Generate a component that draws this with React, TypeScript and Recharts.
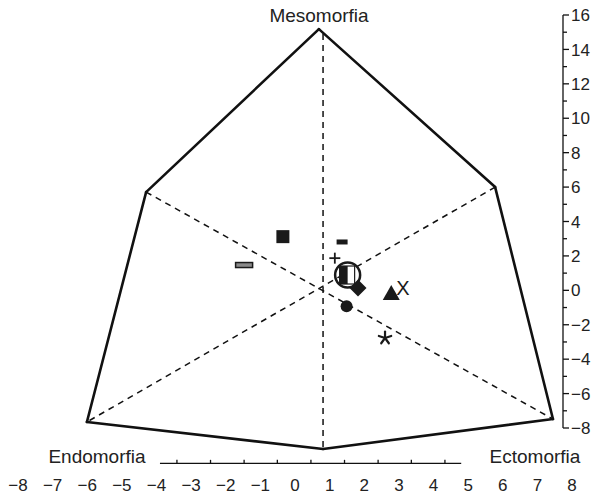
import React from 'react';
import { ScatterChart, Scatter, XAxis, YAxis, ReferenceLine } from 'recharts';

const FONT = '"Liberation Sans", Arial, Helvetica, sans-serif';

// axis labels
const xTicks = [-8, -7, -6, -5, -4, -3, -2, -1, 0, 1, 2, 3, 4, 5, 6, 7, 8];
const yTicks = [-8, -7, -6, -5, -4, -3, -2, -1, 0, 1, 2, 3, 4, 5, 6, 7, 8, 9, 10, 11, 12, 13, 14, 15, 16];

// somatochart outline (apex, top-right, right, bottom, left, top-left)
const outlineX = [0.69, 5.78, 7.45, 0.81, -6.01, -4.3];
const outlineY = [15.18, 6.0, -7.48, -9.22, -7.65, 5.71];

// dashed guides through the centre
const guideFromX = [0.81, -4.3, 5.78];
const guideFromY = [14.9, 5.71, 6.0];
const guideToX = [0.81, 7.45, -6.01];
const guideToY = [-9.22, -7.48, -7.65];

// short decorative axis under the chart
const baseAxisY = -10.05;
const baseAxisX = [-3.9, 4.8];
const baseAxisTicks = [-3.41, -2.44, -1.47, -0.51, 0.46, 1.43, 2.4, 3.36, 4.33];

// group means
const markerNames = ['square', 'greyBar', 'dash', 'plus', 'ring', 'diamond', 'triangle', 'cross', 'dot', 'star'];
const markerX = [-0.35, -1.47, 1.36, 1.15, 1.52, 1.82, 2.78, 3.12, 1.49, 2.6];
const markerY = [3.12, 1.47, 2.81, 1.87, 0.89, 0.13, -0.15, 0.13, -0.92, -2.77];

const fmt = (v: number) => (v < 0 ? `\u2212${-v}` : `${v}`);

const YTick = (props: any) => {
  const { x, y, payload } = props;
  const v = payload.value as number;
  const major = v % 2 === 0;
  return (
    <g>
      <line x1={x} x2={x + (major ? 6 : 4)} y1={y} y2={y} stroke="#111" strokeWidth={1.3} />
      {major && (
        <text x={x + 8} y={y} dy="0.36em" fontSize={17} fontFamily={FONT} fill="#222">
          {fmt(v)}
        </text>
      )}
    </g>
  );
};

const XTick = (props: any) => {
  const { x, y, payload } = props;
  return (
    <text x={x} y={y + 63} textAnchor="middle" fontSize={17} fontFamily={FONT} fill="#222">
      {fmt(payload.value)}
    </text>
  );
};

const drawMarker = (name: string) => (props: any) => {
  const { cx, cy } = props;
  switch (name) {
    case 'square':
      return <rect x={cx - 6.5} y={cy - 6.5} width={13} height={13} fill="#1a1a1a" />;
    case 'greyBar':
      return <rect x={cx - 8.5} y={cy - 2.5} width={17} height={5} fill="#8a8a8a" stroke="#1a1a1a" strokeWidth={1.5} />;
    case 'dash':
      return <rect x={cx - 5.5} y={cy - 2.5} width={11} height={5} fill="#1a1a1a" />;
    case 'plus':
      return (
        <g stroke="#1a1a1a" strokeWidth={1.8}>
          <line x1={cx - 5.5} x2={cx + 5.5} y1={cy} y2={cy} />
          <line x1={cx} x2={cx} y1={cy - 5.5} y2={cy + 5.5} />
        </g>
      );
    case 'ring':
      return (
        <g>
          <rect x={cx - 8} y={cy - 9} width={15} height={18} fill="#fff" stroke="#1a1a1a" strokeWidth={1.2} />
          <rect x={cx - 8} y={cy - 9} width={8} height={18} fill="#1a1a1a" />
          <circle cx={cx} cy={cy} r={12.5} fill="none" stroke="#1a1a1a" strokeWidth={2.5} />
        </g>
      );
    case 'diamond':
      return <path d={`M${cx},${cy - 8.5}L${cx + 8.5},${cy}L${cx},${cy + 8.5}L${cx - 8.5},${cy}Z`} fill="#1a1a1a" />;
    case 'triangle':
      return <path d={`M${cx},${cy - 8}L${cx + 8.5},${cy + 7}L${cx - 8.5},${cy + 7}Z`} fill="#1a1a1a" />;
    case 'cross':
      return (
        <text x={cx} y={cy} dy="0.36em" textAnchor="middle" fontSize={20} fontFamily={FONT} fill="#1a1a1a">
          X
        </text>
      );
    case 'dot':
      return <circle cx={cx} cy={cy} r={6} fill="#1a1a1a" />;
    case 'star': {
      const arms = [-90, -18, 54, 126, 198].map((a) => (a * Math.PI) / 180);
      return (
        <g stroke="#1a1a1a" strokeWidth={2.2} strokeLinecap="round">
          {arms.map((a, i) => (
            <line key={i} x1={cx} y1={cy} x2={cx + 6.5 * Math.cos(a)} y2={cy + 6.5 * Math.sin(a)} />
          ))}
        </g>
      );
    }
    default:
      return <g />;
  }
};

const labelStyle: React.CSSProperties = {
  position: 'absolute',
  fontFamily: FONT,
  fontSize: 19,
  color: '#222',
  transform: 'translate(-50%, -50%)',
  whiteSpace: 'nowrap',
  lineHeight: 1,
};

export default function App() {
  const n = outlineX.length;
  return (
    <div style={{ position: 'relative', width: 596, height: 499, background: '#fff' }}>
      <style>{'body{margin:0}'}</style>
      <ScatterChart width={596} height={499} margin={{ top: 15, right: 0, bottom: 0, left: 0 }}>
        <XAxis
          type="number"
          dataKey="x"
          domain={[-8.52, 7.74]}
          allowDataOverflow
          ticks={xTicks}
          interval={0}
          height={71}
          axisLine={false}
          tickLine={false}
          tickSize={0}
          tickMargin={0}
          tick={<XTick />}
        />
        <YAxis
          type="number"
          dataKey="y"
          orientation="right"
          domain={[-8, 16]}
          allowDataOverflow
          ticks={yTicks}
          interval={0}
          width={33}
          axisLine={{ stroke: '#111', strokeWidth: 1.3 }}
          tickLine={false}
          tickSize={0}
          tickMargin={0}
          tick={<YTick />}
        />
        {guideFromX.map((_, i) => (
          <ReferenceLine
            key={`g${i}`}
            segment={[
              { x: guideFromX[i], y: guideFromY[i] },
              { x: guideToX[i], y: guideToY[i] },
            ]}
            stroke="#111"
            strokeWidth={1.5}
            strokeDasharray="6 5"
            ifOverflow="visible"
          />
        ))}
        {outlineX.map((_, i) => (
          <ReferenceLine
            key={`o${i}`}
            segment={[
              { x: outlineX[i], y: outlineY[i] },
              { x: outlineX[(i + 1) % n], y: outlineY[(i + 1) % n] },
            ]}
            stroke="#111"
            strokeWidth={2.6}
            strokeLinecap="round"
            ifOverflow="visible"
          />
        ))}
        <ReferenceLine
          segment={[
            { x: baseAxisX[0], y: baseAxisY },
            { x: baseAxisX[1], y: baseAxisY },
          ]}
          stroke="#111"
          strokeWidth={1.3}
          ifOverflow="visible"
        />
        {baseAxisTicks.map((t) => (
          <ReferenceLine
            key={`t${t}`}
            segment={[
              { x: t, y: baseAxisY },
              { x: t, y: baseAxisY + 0.2 },
            ]}
            stroke="#111"
            strokeWidth={1.3}
            ifOverflow="visible"
          />
        ))}
        {markerNames.map((name, i) => (
          <Scatter
            key={name}
            name={name}
            data={[{ x: markerX[i], y: markerY[i] }]}
            shape={drawMarker(name)}
            isAnimationActive={false}
          />
        ))}
      </ScatterChart>
      <div style={{ ...labelStyle, left: 319, top: 15 }}>Mesomorfia</div>
      <div style={{ ...labelStyle, left: 97, top: 456 }}>Endomorfia</div>
      <div style={{ ...labelStyle, left: 535, top: 456 }}>Ectomorfia</div>
    </div>
  );
}
